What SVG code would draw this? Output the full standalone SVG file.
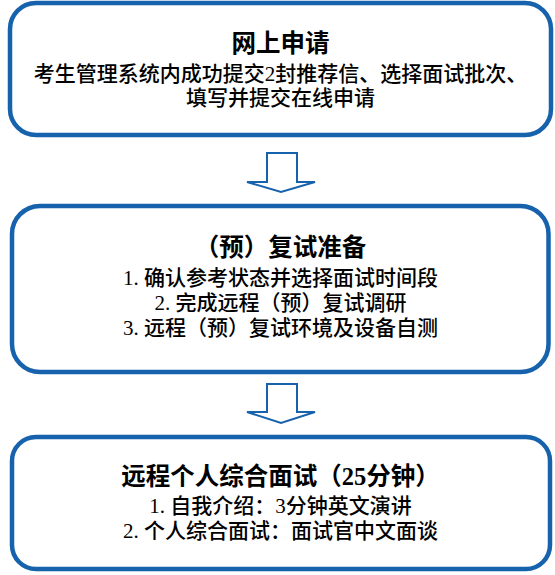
<svg xmlns="http://www.w3.org/2000/svg" width="555" height="575" viewBox="0 0 555 575">
<style>
.box{fill:#ffffff;stroke:#1762ad;stroke-width:4.5}
.arrow{fill:#ffffff;stroke:#1762ad;stroke-width:2;stroke-linejoin:miter}
text{font-family:"Liberation Serif","Noto Sans CJK SC",serif;fill:#000;text-anchor:middle}
.title{font-size:24.5px;font-weight:bold}
.body{font-size:21px;font-weight:500}
</style>
<rect width="555" height="575" fill="#ffffff"/>
<g id="connectors">
<polygon class="arrow" points="267,153 297,153 297,182 315,182 281,192 247,182 267,182"/>
<polygon class="arrow" points="267,384 297,384 297,412 315,412 281,423 247,412 267,412"/>
</g>
<g id="node-online-application">
<rect class="box" x="10" y="3" width="541" height="132" rx="26"/>
<text class="title" x="280.5" y="52">网上申请</text>
<text class="body" x="280.5" y="81">考生管理系统内成功提交2封推荐信、选择面试批次、</text>
<text class="body" x="280.5" y="105">填写并提交在线申请</text>
</g>
<g id="node-preparation">
<rect class="box" x="12" y="206" width="536.5" height="166" rx="28"/>
<text class="title" x="280.5" y="256">（预）复试准备</text>
<text class="body" x="280.5" y="285">1. 确认参考状态并选择面试时间段</text>
<text class="body" x="280.5" y="310">2. 完成远程（预）复试调研</text>
<text class="body" x="280.5" y="335">3. 远程（预）复试环境及设备自测</text>
</g>
<g id="node-interview">
<rect class="box" x="12" y="437" width="538" height="132" rx="24"/>
<text class="title" x="280.5" y="485">远程个人综合面试（25分钟）</text>
<text class="body" x="280.5" y="513">1. 自我介绍：3分钟英文演讲</text>
<text class="body" x="280.5" y="538">2. 个人综合面试：面试官中文面谈</text>
</g>
</svg>
